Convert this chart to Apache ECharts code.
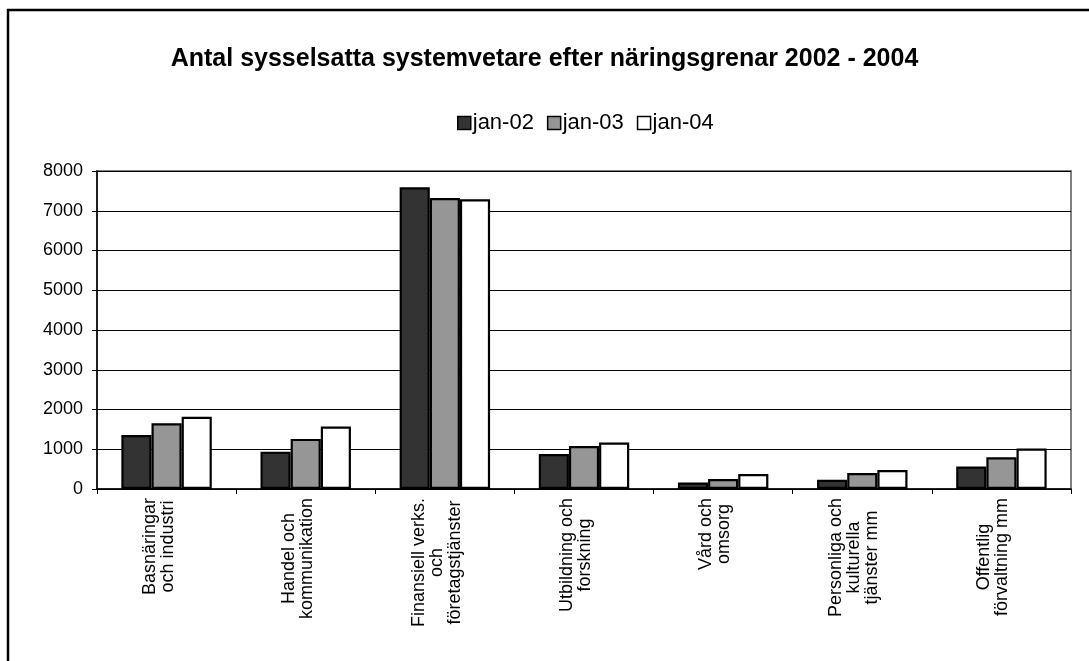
<!DOCTYPE html>
<html>
<head>
<meta charset="utf-8">
<title>Antal sysselsatta systemvetare</title>
<script src="https://cdn.jsdelivr.net/npm/echarts@6/dist/echarts.min.js"></script>
<style>
  html, body { margin: 0; padding: 0; background: #fff; overflow: hidden; }
  #main { width: 1089px; height: 661px; }
</style>
</head>
<body>
<div id="main"></div>
<script>
// data
var categories = [
  "Basnäringar\noch industri",
  "Handel och\nkommunikation",
  "Finansiell verks.\noch\nföretagstjänster",
  "Utbildning och\nforskning",
  "Vård och\nomsorg",
  "Personliga och\nkulturella\ntjänster mm",
  "Offentlig\nförvaltning mm"
];
var seriesNames = ["jan-02", "jan-03", "jan-04"];
var jan02 = [1360, 940, 7590, 880, 165, 230, 565];
var jan03 = [1655, 1260, 7320, 1080, 250, 400, 800];
var jan04 = [1815, 1570, 7290, 1170, 375, 475, 1020];
var yTicks = [0, 1000, 2000, 3000, 4000, 5000, 6000, 7000, 8000];

var colors = ["#333333", "#969696", "#ffffff"];
var FONT = "Liberation Sans, Arial, sans-serif";

var chart = echarts.init(document.getElementById("main"));

function makeSeries(name, data, i) {
  return {
    name: name,
    type: "bar",
    data: data,
    barGap: "0%",
    barCategoryGap: "35%",
    itemStyle: {
      color: colors[i],
      borderColor: "#000",
      borderWidth: 2.2
    }
  };
}

chart.setOption({
  animation: false,
  backgroundColor: "#fff",
  title: {
    text: "Antal sysselsatta systemvetare efter näringsgrenar 2002 - 2004",
    left: "center",
    top: 42,
    textStyle: {
      fontFamily: FONT,
      fontSize: 25,
      fontWeight: "bold",
      color: "#000"
    }
  },
  legend: {
    data: seriesNames,
    left: 452,
    top: 107,
    itemWidth: 13,
    itemHeight: 13,
    itemGap: 13,
    icon: "rect",
    textStyle: {
      fontFamily: FONT,
      fontSize: 22,
      color: "#000",
      padding: [0, 0, 0, -3]
    },
    itemStyle: { borderColor: "#000", borderWidth: 1.5 }
  },
  grid: {
    left: 97,
    right: 18,
    top: 171,
    bottom: 172,
    show: true,
    borderColor: "#808080",
    borderWidth: 2
  },
  xAxis: {
    type: "category",
    data: categories,
    axisLine: { lineStyle: { color: "#000", width: 1.5 } },
    axisTick: { show: true, length: 5, lineStyle: { color: "#000" } },
    axisLabel: {
      interval: 0,
      rotate: 90,
      margin: 9,
      color: "#000",
      fontFamily: FONT,
      fontSize: 18,
      padding: [0, 0, 16, 0],   // nudges labels a bit left, like the original
      formatter: function (v) {
        return v.split("\n").map(function (s) { return "{c|" + s + "}"; }).join("\n");
      },
      rich: {
        c: { align: "center", fontFamily: FONT, fontSize: 18, lineHeight: 18, color: "#000" }
      }
    }
  },
  yAxis: {
    type: "value",
    min: yTicks[0],
    max: yTicks[yTicks.length - 1],
    interval: 1000,
    axisLine: { show: true, lineStyle: { color: "#000", width: 1.5 } },
    axisTick: { show: true, length: 5, lineStyle: { color: "#000" } },
    axisLabel: {
      margin: 14,
      color: "#000",
      fontFamily: FONT,
      fontSize: 18,
      formatter: function (v) { return String(v); }
    },
    splitLine: { show: true, lineStyle: { color: "#000", width: 1 } }
  },
  // outer chart frame
  graphic: [{
    type: "rect",
    shape: { x: 8, y: 10, width: 1200, height: 800 },
    style: { fill: "none", stroke: "#000", lineWidth: 2.5 },
    silent: true
  }],
  series: [
    makeSeries(seriesNames[0], jan02, 0),
    makeSeries(seriesNames[1], jan03, 1),
    makeSeries(seriesNames[2], jan04, 2)
  ]
});
</script>
</body>
</html>
